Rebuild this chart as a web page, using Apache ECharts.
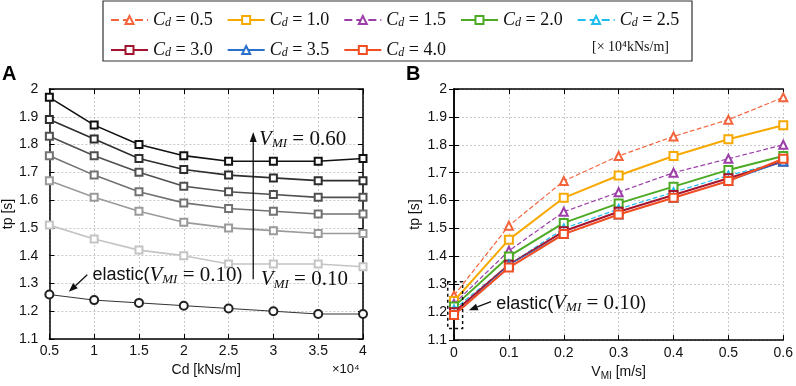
<!DOCTYPE html>
<html>
<head>
<meta charset="utf-8">
<script src="https://cdn.jsdelivr.net/npm/echarts@6/dist/echarts.min.js"></script>
<style>
  html, body { margin: 0; padding: 0; background: #fff; }
  #main { width: 796px; height: 386px; }
</style>
</head>
<body>
<div id="main"></div>
<script>
// ---- data ----
// panel B x axis : V_MI [m/s]
const vmiValues = [0, 0.1, 0.2, 0.3, 0.4, 0.5, 0.6];
// panel A x axis : Cd [x10^4 kNs/m]
const cdValues = [0.5, 1.0, 1.5, 2.0, 2.5, 3.0, 3.5, 4.0];

// tp [s] per Cd, along V_MI (first value = elastic, V_MI = 0.10)
const tpCd05 = [1.26, 1.51, 1.67, 1.76, 1.83, 1.89, 1.97];
const tpCd10 = [1.24, 1.46, 1.61, 1.69, 1.76, 1.82, 1.87];
const tpCd15 = [1.23, 1.42, 1.56, 1.63, 1.70, 1.75, 1.80];
const tpCd20 = [1.22, 1.40, 1.52, 1.59, 1.65, 1.71, 1.76];
const tpCd25 = [1.21, 1.37, 1.50, 1.57, 1.63, 1.69, 1.74];
const tpCd30 = [1.20, 1.37, 1.49, 1.56, 1.62, 1.68, 1.74];
const tpCd35 = [1.19, 1.37, 1.48, 1.55, 1.61, 1.67, 1.74];
const tpCd40 = [1.19, 1.36, 1.48, 1.55, 1.61, 1.67, 1.75];

const cdRows = [tpCd05, tpCd10, tpCd15, tpCd20, tpCd25, tpCd30, tpCd35, tpCd40];
const cdLabels = ['0.5', '1.0', '1.5', '2.0', '2.5', '3.0', '3.5', '4.0'];

// panel A curves, shades from light (0.10) to black (0.60)
const vmiCurves = [
    { idx: 1, label: '0.10', color: '#c4c4c4' },
    { idx: 2, label: '0.20', color: '#9a9a9a' },
    { idx: 3, label: '0.30', color: '#727272' },
    { idx: 4, label: '0.40', color: '#505050' },
    { idx: 5, label: '0.50', color: '#2e2e2e' },
    { idx: 6, label: '0.60', color: '#111111' }
];

// panel B styles
const cdStyles = [
    { color: '#f4643c', type: 'dashed', width: 1.2, symbol: 'emptyTriangle' },
    { color: '#f7a900', type: 'solid', width: 2, symbol: 'emptyRect' },
    { color: '#9c3fa8', type: 'dashed', width: 1.2, symbol: 'emptyTriangle' },
    { color: '#4caa24', type: 'solid', width: 2, symbol: 'emptyRect' },
    { color: '#1fbdee', type: 'dashed', width: 1.2, symbol: 'emptyTriangle' },
    { color: '#a5142e', type: 'solid', width: 2, symbol: 'emptyRect' },
    { color: '#2a70cc', type: 'solid', width: 1, symbol: 'emptyTriangle' },
    { color: '#f24e22', type: 'solid', width: 2, symbol: 'emptyRect' }
];

const SERIF = 'Liberation Serif';
const SANS = 'Liberation Sans';

var chart = echarts.init(document.getElementById('main'));

function cdName(lbl) { return 'Cd = ' + lbl; }

let series = [];

// --- panel A
vmiCurves.forEach(function (c) {
    series.push({
        name: 'A ' + c.label,
        type: 'line',
        xAxisIndex: 0,
        yAxisIndex: 0,
        data: cdValues.map(function (x, i) { return [x, cdRows[i][c.idx]]; }),
        symbol: 'emptyRect',
        symbolSize: 7,
        lineStyle: { color: c.color, width: 1.6 },
        itemStyle: { color: c.color, borderWidth: 1.5 },
        z: 3
    });
});
series.push({
    name: 'A elastic',
    type: 'line',
    xAxisIndex: 0,
    yAxisIndex: 0,
    data: cdValues.map(function (x, i) { return [x, cdRows[i][0]]; }),
    symbol: 'emptyCircle',
    symbolSize: 8,
    lineStyle: { color: '#333', width: 1 },
    itemStyle: { color: '#222', borderWidth: 1 },
    z: 3
});

// --- panel B
cdRows.forEach(function (row, k) {
    let s = cdStyles[k];
    series.push({
        name: cdName(cdLabels[k]),
        type: 'line',
        xAxisIndex: 2,
        yAxisIndex: 2,
        data: vmiValues.map(function (v, i) { return [v, row[i]]; }),
        symbol: s.symbol,
        symbolSize: 8,
        lineStyle: { color: s.color, width: s.width, type: s.type },
        itemStyle: { color: s.color, borderWidth: 1.2 },
        z: 3 + k
    });
});

function legendFmt(name) {
    return '{c|C}{d|d}{t| = ' + name.split('= ')[1] + '}';
}
const legendRich = {
    c: { fontFamily: SERIF, fontStyle: 'italic', fontSize: 18, color: '#111' },
    d: { fontFamily: SERIF, fontStyle: 'italic', fontSize: 12, color: '#111', verticalAlign: 'bottom', padding: [6, 0, 0, 0] },
    t: { fontFamily: SERIF, fontSize: 18, color: '#111', width: 45 }
};

function frameAxis(grid, pos, min, max, interval) {
    return {
        type: 'value', gridIndex: grid, position: pos, min: min, max: max, interval: interval,
        axisLine: { show: true, lineStyle: { color: '#000', width: 1.5 } },
        axisTick: { show: true, inside: true, length: 5, lineStyle: { color: '#000' } },
        axisLabel: { show: false },
        splitLine: { show: false }
    };
}

const dotted = { show: true, lineStyle: { color: '#c8c8c8', type: [2, 2], width: 1 } };
const tickLbl = { fontFamily: SANS, fontSize: 14, color: '#111' };

option = {
    animation: false,
    backgroundColor: '#fff',
    grid: [
        { left: 40, right: 433, top: 89, bottom: 47 },
        { left: 454, right: 9, top: 89, bottom: 45 }
    ],
    legend: [{
        data: cdLabels.slice(0, 5).map(cdName),
        left: 105, top: 6,
        itemWidth: 37, itemHeight: 10, itemGap: 14,
        formatter: legendFmt,
        textStyle: { rich: legendRich }
    }, {
        data: cdLabels.slice(5).map(cdName),
        left: 105, top: 36,
        itemWidth: 37, itemHeight: 10, itemGap: 14,
        formatter: legendFmt,
        textStyle: { rich: legendRich }
    }],
    xAxis: [
        Object.assign(frameAxis(0, 'bottom', 0.5, 4, 0.5), {
            axisLabel: Object.assign({ show: true, margin: 5, formatter: function (v) { return String(+v.toFixed(1)); } }, tickLbl),
            splitLine: dotted,
            name: 'Cd [kNs/m]', nameLocation: 'middle', nameGap: 21,
            nameTextStyle: { fontFamily: SANS, fontSize: 14, color: '#111' }
        }),
        frameAxis(0, 'top', 0.5, 4, 0.5),
        Object.assign(frameAxis(1, 'bottom', 0, 0.6, 0.1), {
            axisLabel: Object.assign({ show: true, margin: 6, formatter: function (v) { return String(+v.toFixed(1)); } }, tickLbl),
            splitLine: dotted,
            name: '{v|V}{s|MI} [m/s]', nameLocation: 'middle', nameGap: 21,
            nameTextStyle: {
                fontFamily: SANS, fontSize: 14, color: '#111',
                rich: {
                    v: { fontFamily: SANS, fontSize: 14, color: '#111' },
                    s: { fontFamily: SANS, fontSize: 10, color: '#111', verticalAlign: 'bottom', padding: [8, 0, 0, 0] }
                }
            }
        }),
        frameAxis(1, 'top', 0, 0.6, 0.1)
    ],
    yAxis: [
        Object.assign(frameAxis(0, 'left', 1.1, 2, 0.1), {
            axisLabel: Object.assign({ show: true, margin: 11, formatter: function (v) { return String(+v.toFixed(1)); } }, tickLbl),
            splitLine: dotted,
            name: 'tp [s]', nameLocation: 'middle', nameGap: 30,
            nameTextStyle: { fontFamily: SANS, fontSize: 14, color: '#111' }
        }),
        frameAxis(0, 'right', 1.1, 2, 0.1),
        Object.assign(frameAxis(1, 'left', 1.1, 2, 0.1), {
            axisLabel: Object.assign({ show: true, margin: 7, formatter: function (v) { return String(+v.toFixed(1)); } }, tickLbl),
            splitLine: dotted,
            name: 'tp [s]', nameLocation: 'middle', nameGap: 32,
            nameTextStyle: { fontFamily: SANS, fontSize: 14, color: '#111' }
        }),
        frameAxis(1, 'right', 1.1, 2, 0.1)
    ],
    series: series
};
chart.setOption(option);

// ---- annotations, placed in data coordinates
function px(grid, x, y) { return chart.convertToPixel({ gridIndex: grid }, [x, y]); }

const mathRich = {
    v: { fontFamily: SERIF, fontStyle: 'italic', fontSize: 21, fill: '#111' },
    m: { fontFamily: SERIF, fontStyle: 'italic', fontSize: 13, fill: '#111', verticalAlign: 'bottom', padding: [9, 0, 0, 0] },
    e: { fontFamily: SERIF, fontSize: 21, fill: '#111' },
    el: { fontFamily: SANS, fontSize: 18, fill: '#111' }
};

function arrow(p0, p1, w, len) {
    let dx = p1[0] - p0[0], dy = p1[1] - p0[1];
    let d = Math.sqrt(dx * dx + dy * dy);
    let ux = dx / d, uy = dy / d;
    let bx = p1[0] - ux * len, by = p1[1] - uy * len;
    return [{
        type: 'line', z: 20,
        shape: { x1: p0[0], y1: p0[1], x2: bx, y2: by },
        style: { stroke: '#111', lineWidth: 1.3 }
    }, {
        type: 'polygon', z: 20,
        shape: { points: [[p1[0], p1[1]], [bx - uy * w, by + ux * w], [bx + uy * w, by - ux * w]] },
        style: { fill: '#111' }
    }];
}

let g = [];
// legend frame
g.push({ type: 'rect', shape: { x: 103, y: 1, width: 589, height: 60 }, style: { fill: 'none', stroke: '#333', lineWidth: 1.2 } });
g.push({ type: 'text', style: { text: '[× 10⁴kNs/m]', x: 592, y: 47, verticalAlign: 'middle', font: '14px "Liberation Serif"', fill: '#111' } });
// panel letters
g.push({ type: 'text', style: { text: 'A', x: 2, y: 64, font: 'bold 20px "Liberation Sans"', fill: '#000' } });
g.push({ type: 'text', style: { text: 'B', x: 406, y: 64, font: 'bold 20px "Liberation Sans"', fill: '#000' } });
// x 10^4 multiplier
g.push({ type: 'text', style: { text: '×10⁴', x: 332, y: 369, verticalAlign: 'middle', font: '13px "Liberation Sans"', fill: '#111' } });

// panel A : V_MI arrow
g = g.concat(arrow(px(0, 2.775, 1.315), px(0, 2.775, 1.845), 3.5, 10));
let t60 = px(0, 2.84, 1.82);
g.push({ type: 'text', z: 21, style: { text: '{v|V}{m|MI}{e| = 0.60}', rich: mathRich, x: t60[0], y: t60[1], verticalAlign: 'middle' } });
let t10 = px(0, 2.86, 1.313);
g.push({ type: 'text', z: 21, style: { text: '{v|V}{m|MI}{e| = 0.10}', rich: mathRich, x: t10[0], y: t10[1], verticalAlign: 'middle' } });
let tel = px(0, 0.98, 1.33);
g.push({ type: 'text', z: 21, style: { text: '{el|elastic(}{v|V}{m|MI}{e| = 0.10}{el|)}', rich: mathRich, x: tel[0], y: tel[1], verticalAlign: 'middle' } });
g = g.concat(arrow(px(0, 0.923, 1.331), px(0, 0.717, 1.27), 3.5, 9));

// panel B : dashed box round the elastic points and label
let b0 = px(1, -0.0114, 1.309), b1 = px(1, 0.0157, 1.142);
g.push({ type: 'rect', z: 20, shape: { x: b0[0], y: b0[1], width: b1[0] - b0[0], height: b1[1] - b0[1] },
    style: { fill: 'none', stroke: '#111', lineWidth: 1.5, lineDash: [3, 3] } });
g = g.concat(arrow(px(1, 0.0675, 1.238), px(1, 0.0271, 1.207), 3.5, 9));
let tb = px(1, 0.077, 1.231);
g.push({ type: 'text', z: 21, style: { text: '{el|elastic(}{v|V}{m|MI}{e| = 0.10}{el|)}', rich: mathRich, x: tb[0], y: tb[1], verticalAlign: 'middle' } });

chart.setOption({ graphic: g });
</script>
</body>
</html>
